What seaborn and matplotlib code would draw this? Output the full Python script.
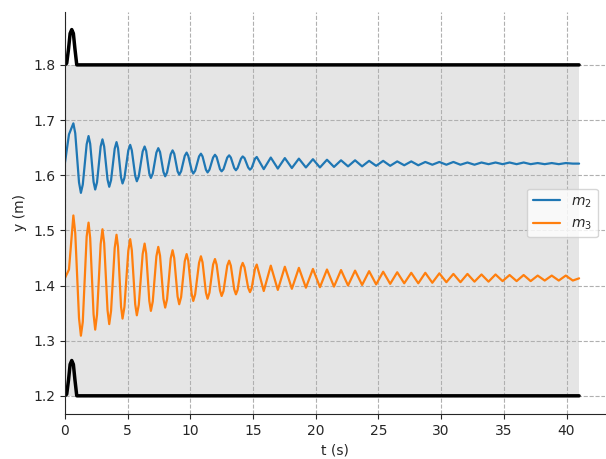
import numpy as np
import matplotlib.pyplot as plt
import seaborn as sns
import pandas as pd

# sample times (s), shared by both masses:
# extrema plus two shoulder points in between for the large early swings
t = [0, 0.33,
     0.68, 0.83, 1.13,
     1.28, 1.43, 1.74,
     1.89, 2.02, 2.29,
     2.42, 2.565, 2.855,
     3.0, 3.135, 3.405,
     3.54, 3.685, 3.975,
     4.12, 4.24, 4.48,
     4.6, 4.75, 5.06,
     5.21, 5.34, 5.61,
     5.74, 5.895, 6.205,
     6.36, 6.485, 6.735,
     6.86, 7.01, 7.30,
     7.45, 7.59, 7.86,
     8.0, 8.15, 8.44,
     8.59, 8.72, 8.99,
     9.12, 9.27, 9.56,
     9.71, 9.84, 10.11,
     10.24, 10.39, 10.70,
     10.85, 10.98, 11.25,
     11.38, 11.53, 11.82,
     11.97, 12.10, 12.37,
     12.5, 12.65, 12.95,
     13.1, 13.235, 13.505,
     13.64, 13.775, 14.045,
     14.18, 14.325, 14.615,
     14.76, 14.895, 15.165,
     15.3, 15.86, 16.42, 16.98, 17.54, 18.1, 18.66, 19.22, 19.78, 20.34,
     20.9, 21.46, 22.02, 22.58, 23.14, 23.7, 24.26, 24.82, 25.38, 25.94, 26.5,
     27.06, 27.62, 28.18, 28.74, 29.3, 29.86, 30.42, 30.98, 31.54, 32.1, 32.66,
     33.22, 33.78, 34.34, 34.9, 35.46, 36.02, 36.58, 37.14, 37.7, 38.26, 38.82,
     39.38, 39.94, 40.5, 41.0]

m2 = [1.621, 1.674,
      1.694, 1.676, 1.587,
      1.568, 1.583, 1.656,
      1.671, 1.657, 1.588,
      1.574, 1.587, 1.652,
      1.665, 1.652, 1.592,
      1.579, 1.591, 1.648,
      1.660, 1.649, 1.596,
      1.585, 1.595, 1.645,
      1.655, 1.645, 1.599,
      1.589, 1.598, 1.643,
      1.652, 1.644, 1.603,
      1.595, 1.603, 1.641,
      1.649, 1.642, 1.606,
      1.598, 1.605, 1.638,
      1.645, 1.639, 1.607,
      1.601, 1.607, 1.635,
      1.641, 1.635, 1.609,
      1.603, 1.608, 1.634,
      1.639, 1.634, 1.610,
      1.605, 1.610, 1.632,
      1.637, 1.633, 1.611,
      1.607, 1.611, 1.632,
      1.636, 1.632, 1.613,
      1.609, 1.613, 1.630,
      1.634, 1.631, 1.614,
      1.610, 1.613, 1.630,
      1.633, 1.611, 1.632, 1.612, 1.631, 1.613, 1.630, 1.614, 1.629, 1.614,
      1.628, 1.615, 1.627, 1.616, 1.627, 1.616, 1.626, 1.617, 1.626, 1.617, 1.625,
      1.618, 1.625, 1.618, 1.624, 1.619, 1.624, 1.619, 1.624, 1.619, 1.623, 1.619,
      1.623, 1.620, 1.623, 1.620, 1.623, 1.620, 1.623, 1.620, 1.622, 1.620, 1.622,
      1.620, 1.622, 1.621, 1.621]

m3 = [1.413, 1.429,
      1.527, 1.495, 1.341,
      1.309, 1.334, 1.489,
      1.514, 1.486, 1.348,
      1.320, 1.347, 1.475,
      1.502, 1.477, 1.355,
      1.330, 1.354, 1.468,
      1.492, 1.470, 1.362,
      1.340, 1.361, 1.463,
      1.484, 1.464, 1.366,
      1.346, 1.365, 1.457,
      1.476, 1.458, 1.372,
      1.354, 1.371, 1.453,
      1.470, 1.454, 1.376,
      1.360, 1.375, 1.449,
      1.464, 1.450, 1.380,
      1.366, 1.379, 1.444,
      1.457, 1.445, 1.385,
      1.372, 1.384, 1.441,
      1.453, 1.442, 1.387,
      1.376, 1.387, 1.438,
      1.448, 1.438, 1.391,
      1.381, 1.390, 1.436,
      1.445, 1.436, 1.393,
      1.384, 1.392, 1.433,
      1.441, 1.433, 1.396,
      1.388, 1.395, 1.431,
      1.438, 1.390, 1.436, 1.392, 1.434, 1.394, 1.432, 1.396, 1.430, 1.397,
      1.429, 1.398, 1.428, 1.400, 1.427, 1.401, 1.426, 1.402, 1.425, 1.403, 1.424,
      1.404, 1.423, 1.404, 1.423, 1.405, 1.422, 1.406, 1.421, 1.406, 1.421, 1.407,
      1.420, 1.407, 1.420, 1.408, 1.419, 1.408, 1.419, 1.408, 1.418, 1.409, 1.418,
      1.409, 1.418, 1.409, 1.413]

# walls (black), with the initial bump
t_wall = [0, 0.15, 0.3, 0.42, 0.55, 0.68, 0.8, 0.95, 41.0]
upper = [1.8, 1.803, 1.83, 1.857, 1.864, 1.857, 1.83, 1.8, 1.8]
lower = [1.2, 1.203, 1.23, 1.257, 1.264, 1.257, 1.23, 1.2, 1.2]

df = pd.DataFrame({'t': t, 'm2': m2, 'm3': m3})
walls = pd.DataFrame({'t': t_wall, 'upper': upper, 'lower': lower})

sns.set_style('ticks', {'axes.grid': True, 'grid.linestyle': '--', 'grid.color': '#b0b0b0'})
fig, ax = plt.subplots(figsize=(6.06, 4.59), dpi=100)

ax.fill_between([0, 41], 1.2, 1.8, color='#e5e5e5', lw=0, zorder=0)
sns.lineplot(data=walls, x='t', y='upper', color='black', lw=2.5, ax=ax)
sns.lineplot(data=walls, x='t', y='lower', color='black', lw=2.5, ax=ax)
sns.lineplot(data=df, x='t', y='m2', color='#1f77b4', lw=1.6, label='$m_2$', ax=ax)
sns.lineplot(data=df, x='t', y='m3', color='#ff7f0e', lw=1.6, label='$m_3$', ax=ax)

ax.set_xlim(0, 43.05)
ax.set_ylim(1.167, 1.896)
ax.set_xticks(np.arange(0, 41, 5))
ax.set_yticks([1.2, 1.3, 1.4, 1.5, 1.6, 1.7, 1.8])
ax.set_xlabel('t (s)')
ax.set_ylabel('y (m)')
ax.legend(loc='center right')
sns.despine()

fig.subplots_adjust(left=0.107, right=0.998, top=0.974, bottom=0.098)
fig.savefig('out.png')
